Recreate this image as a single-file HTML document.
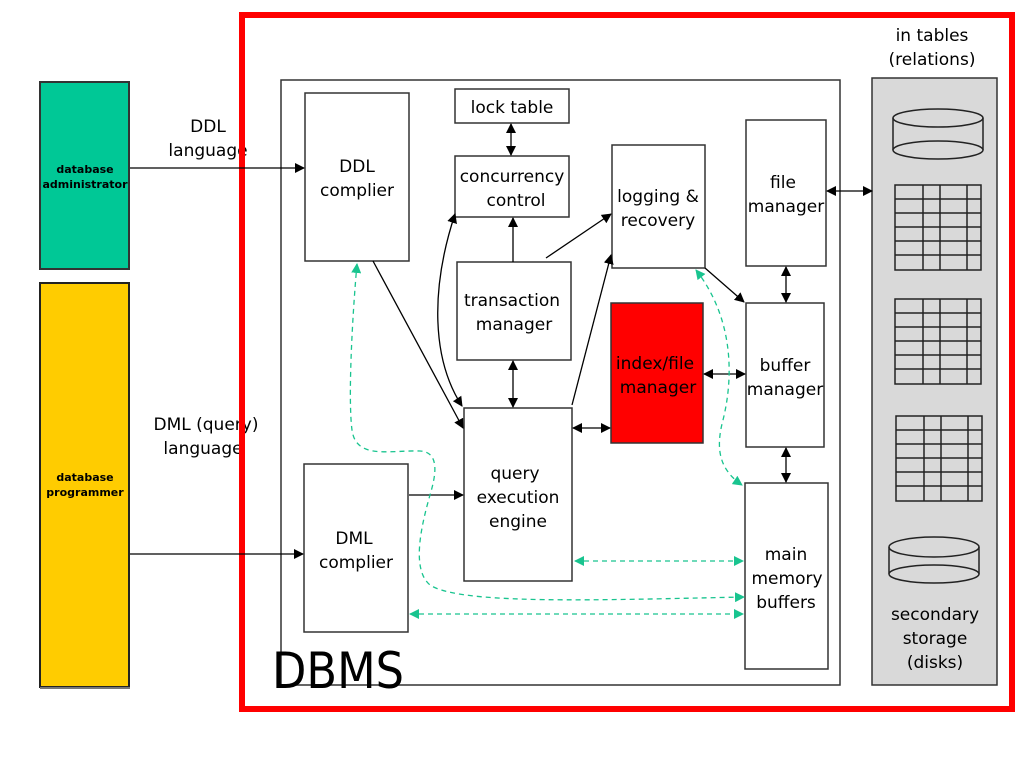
<!DOCTYPE html>
<html><head><style>body{margin:0;background:#fff}svg{display:block}text{font-family:"DejaVu Sans","Liberation Sans",sans-serif;fill:#000}</style></head>
<body>
<svg width="1024" height="768" viewBox="0 0 1024 768" xmlns="http://www.w3.org/2000/svg">
<defs>
<marker id="a" markerWidth="10" markerHeight="10" refX="9" refY="5" orient="auto-start-reverse" markerUnits="userSpaceOnUse"><path d="M0,0 L10,5 L0,10 z" fill="#000"/></marker>
<marker id="g" markerWidth="10" markerHeight="10" refX="9" refY="5" orient="auto-start-reverse" markerUnits="userSpaceOnUse"><path d="M0,0 L10,5 L0,10 z" fill="#19c48f"/></marker>
</defs>
<!-- left actors -->
<rect x="40" y="82" width="89" height="187" fill="#00c896" stroke="#333" stroke-width="2"/>
<rect x="40" y="283" width="89" height="404" fill="#ffcc00" stroke="#222" stroke-width="2"/>
<line x1="40" y1="688" x2="130" y2="688" stroke="#777" stroke-width="2"/>
<text x="85" y="173" font-size="11" font-weight="bold" text-anchor="middle">database</text>
<text x="85" y="188" font-size="11" font-weight="bold" text-anchor="middle">administrator</text>
<text x="85" y="481" font-size="11" font-weight="bold" text-anchor="middle">database</text>
<text x="85" y="496" font-size="11" font-weight="bold" text-anchor="middle">programmer</text>
<text x="208" y="132" font-size="17" text-anchor="middle">DDL</text>
<text x="208" y="156" font-size="17" text-anchor="middle">language</text>
<text x="206" y="430" font-size="17" text-anchor="middle">DML (query)</text>
<text x="203" y="454" font-size="17" text-anchor="middle">language</text>
<!-- inner box -->
<rect x="281" y="80" width="559" height="605" fill="none" stroke="#333" stroke-width="1.5"/>
<text x="272" y="688" font-size="50" textLength="132" lengthAdjust="spacingAndGlyphs">DBMS</text>
<!-- red border -->
<rect x="242" y="15" width="770" height="694" fill="none" stroke="#ff0000" stroke-width="6"/>
<text x="932" y="41" font-size="17" text-anchor="middle">in tables</text>
<text x="932" y="65" font-size="17" text-anchor="middle">(relations)</text>
<!-- storage panel -->
<rect x="872" y="78" width="125" height="607" fill="#d9d9d9" stroke="#333" stroke-width="1.5"/>
<g fill="none" stroke="#222" stroke-width="1.5">
<path d="M893,118 L893,150 M983,118 L983,150"/>
<ellipse cx="938" cy="118" rx="45" ry="9"/>
<ellipse cx="938" cy="150" rx="45" ry="9" fill="#d9d9d9"/>
<path d="M889,547 L889,574 M979,547 L979,574"/>
<ellipse cx="934" cy="547" rx="45" ry="10"/>
<ellipse cx="934" cy="574" rx="45" ry="9" fill="#d9d9d9"/>
</g>
<g stroke="#222" stroke-width="1.5" fill="none">
<g transform="translate(895,185)"><rect width="86" height="85"/><path d="M0,14H86M0,28H86M0,42H86M0,56H86M0,70H86M28,0V85M45,0V85M72,0V85"/></g>
<g transform="translate(895,299)"><rect width="86" height="85"/><path d="M0,14H86M0,28H86M0,42H86M0,56H86M0,70H86M28,0V85M45,0V85M72,0V85"/></g>
<g transform="translate(896,416)"><rect width="86" height="85"/><path d="M0,14H86M0,28H86M0,42H86M0,56H86M0,70H86M28,0V85M45,0V85M72,0V85"/></g>
</g>
<text x="935" y="620" font-size="17" text-anchor="middle">secondary</text>
<text x="935" y="644" font-size="17" text-anchor="middle">storage</text>
<text x="935" y="668" font-size="17" text-anchor="middle">(disks)</text>
<!-- boxes -->
<g fill="#fff" stroke="#333" stroke-width="1.5">
<rect x="305" y="93" width="104" height="168"/>
<rect x="455" y="89" width="114" height="34"/>
<rect x="455" y="156" width="114" height="61"/>
<rect x="612" y="145" width="93" height="123"/>
<rect x="746" y="120" width="80" height="146"/>
<rect x="457" y="262" width="114" height="98"/>
<rect x="611" y="303" width="92" height="140" fill="#ff0000"/>
<rect x="746" y="303" width="78" height="144"/>
<rect x="464" y="408" width="108" height="173"/>
<rect x="304" y="464" width="104" height="168"/>
<rect x="745" y="483" width="83" height="186"/>
</g>
<g font-size="17" text-anchor="middle">
<text x="357" y="172">DDL</text><text x="357" y="196">complier</text>
<text x="512" y="113">lock table</text>
<text x="512" y="182">concurrency</text><text x="516" y="206">control</text>
<text x="658" y="202">logging &amp;</text><text x="658" y="226">recovery</text>
<text x="783" y="188">file</text><text x="786" y="212">manager</text>
<text x="512" y="306">transaction</text><text x="514" y="330">manager</text>
<text x="655" y="369">index/file</text><text x="658" y="393">manager</text>
<text x="785" y="371">buffer</text><text x="785" y="395">manager</text>
<text x="515" y="479">query</text><text x="518" y="503">execution</text><text x="518" y="527">engine</text>
<text x="354" y="544">DML</text><text x="356" y="568">complier</text>
<text x="786" y="560">main</text><text x="787" y="584">memory</text><text x="786" y="608">buffers</text>
</g>
<!-- black connectors -->
<g stroke="#000" stroke-width="1.3" fill="none">
<line x1="130" y1="168" x2="304" y2="168" marker-end="url(#a)"/>
<line x1="130" y1="554" x2="303" y2="554" marker-end="url(#a)"/>
<line x1="373" y1="261" x2="463" y2="428" marker-end="url(#a)"/>
<path d="M455,214 C430,290 432,360 462,406" marker-start="url(#a)" marker-end="url(#a)"/>
<line x1="513" y1="262" x2="513" y2="218" marker-end="url(#a)"/>
<line x1="511" y1="124" x2="511" y2="155" marker-start="url(#a)" marker-end="url(#a)"/>
<line x1="546" y1="258" x2="611" y2="214" marker-end="url(#a)"/>
<line x1="572" y1="405" x2="611" y2="255" marker-end="url(#a)"/>
<line x1="513" y1="361" x2="513" y2="407" marker-start="url(#a)" marker-end="url(#a)"/>
<line x1="573" y1="428" x2="610" y2="428" marker-start="url(#a)" marker-end="url(#a)"/>
<line x1="704" y1="374" x2="745" y2="374" marker-start="url(#a)" marker-end="url(#a)"/>
<line x1="705" y1="268" x2="744" y2="302" marker-end="url(#a)"/>
<line x1="786" y1="267" x2="786" y2="302" marker-start="url(#a)" marker-end="url(#a)"/>
<line x1="786" y1="448" x2="786" y2="482" marker-start="url(#a)" marker-end="url(#a)"/>
<line x1="827" y1="191" x2="872" y2="191" marker-start="url(#a)" marker-end="url(#a)"/>
<line x1="409" y1="495" x2="463" y2="495" marker-end="url(#a)"/>
</g>
<!-- green dashed -->
<g stroke="#19c48f" stroke-width="1.3" fill="none" stroke-dasharray="5,4">
<path d="M357,264 C352,320 348,400 352,430 C356,460 390,450 420,451 C440,452 436,475 430,495 C420,530 412,570 430,585 C460,605 600,600 744,597" marker-start="url(#g)" marker-end="url(#g)"/>
<line x1="575" y1="561" x2="743" y2="561" marker-start="url(#g)" marker-end="url(#g)"/>
<line x1="410" y1="614" x2="743" y2="614" marker-start="url(#g)" marker-end="url(#g)"/>
<path d="M696,270 C735,320 733,380 723,420 C715,450 720,470 742,485" marker-start="url(#g)" marker-end="url(#g)"/>
</g>
</svg>
</body></html>
